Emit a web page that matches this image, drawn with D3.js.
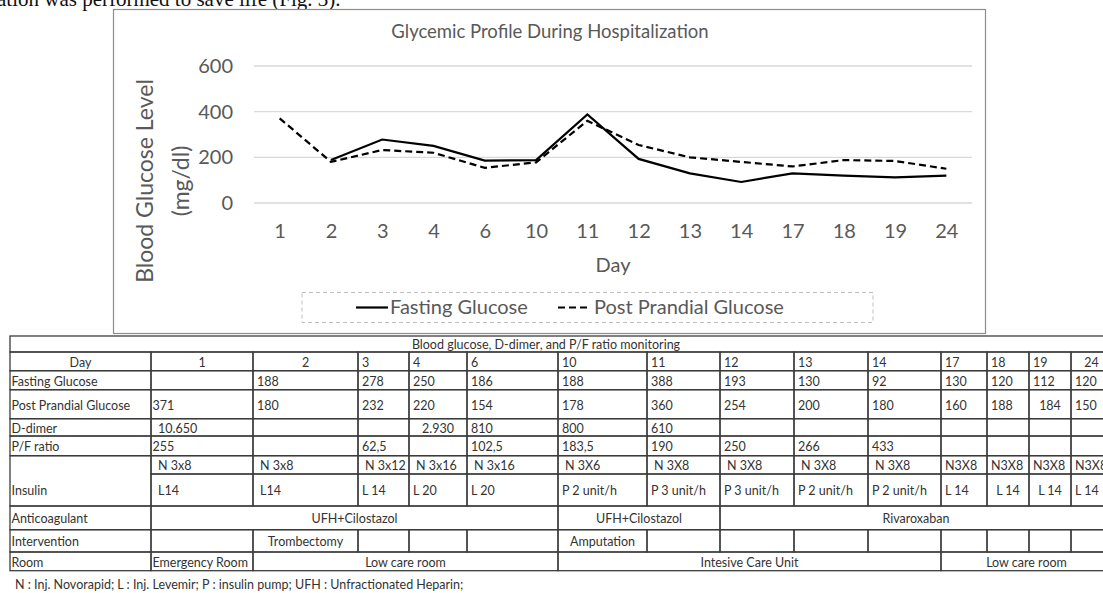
<!DOCTYPE html>
<html>
<head>
<meta charset="utf-8">
<script src="https://cdn.jsdelivr.net/npm/d3@7/dist/d3.min.js"></script>
<style>
  body { margin: 0; background: #fff; }
  svg { display: block; }
</style>
</head>
<body>
<svg id="fig" width="1103" height="593"></svg>
<script>
// chart data
const days = ['1', '2', '3', '4', '6', '10', '11', '12', '13', '14', '17', '18', '19', '24'];
const fasting = [null, 188, 278, 250, 186, 188, 388, 193, 130, 92, 130, 120, 112, 120];
const postPrandial = [371, 180, 232, 220, 154, 178, 360, 254, 200, 180, 160, 188, 184, 150];
const yTicks = [0, 200, 400, 600];

// table data
const dDimer = ['10.650', '', '', '2.930', '810', '800', '610', '', '', '', '', '', '', ''];
const pfRatio = ['255', '', '62,5', '', '102,5', '183,5', '190', '250', '266', '433', '', '', '', ''];
const insulinN = ['N 3x8', 'N 3x8', 'N 3x12', 'N 3x16', 'N 3x16', 'N 3X6', 'N 3X8', 'N 3X8', 'N 3X8', 'N 3X8', 'N3X8', 'N3X8', 'N3X8', 'N3X8'];
const insulinL = ['L14', 'L14', 'L 14', 'L 20', 'L 20', 'P 2 unit/h', 'P 3 unit/h', 'P 3 unit/h', 'P 2 unit/h', 'P 2 unit/h', 'L 14', 'L 14', 'L 14', 'L 14'];
const interventions = ['', 'Trombectomy', '', '', '', 'Amputation', '', '', '', '', '', '', '', ''];
// merged cells: [first column, last column, text]
const anticoagulant = [[0, 4, 'UFH+Cilostazol'], [5, 6, 'UFH+Cilostazol'], [7, 13, 'Rivaroxaban']];
const rooms = [[0, 0, 'Emergency Room'], [1, 4, 'Low care room'], [5, 9, 'Intesive Care Unit'], [10, 13, 'Low care room']];
const tableTitle = 'Blood glucose, D-dimer, and P/F ratio monitoring';
const footnote = 'N : Inj. Novorapid; L : Inj. Levemir; P : insulin pump; UFH : Unfractionated Heparin;';

const font = 'Lato, "Open Sans", sans-serif';
const grey = '#595959';

const svg = d3.select('#fig');

// cut-off line of the paper text above the figure
svg.append('text')
  .attr('x', -3).attr('y', 6)
  .attr('font-family', '"Liberation Serif", "Times New Roman", serif')
  .attr('font-size', 21)
  .attr('fill', '#111')
  .text('ation was performed to save life (Fig. 3).');

// ---------- chart ----------
svg.append('rect')
  .attr('x', 113.5).attr('y', 9.5)
  .attr('width', 872).attr('height', 324)
  .attr('fill', '#fff')
  .attr('stroke', '#8c8c8c')
  .attr('stroke-width', 1.2);

const x = d3.scalePoint().domain(days).range([254, 972]).padding(0.5);
const y = d3.scaleLinear().domain([0, 600]).range([203, 66]);

svg.append('g').selectAll('line')
  .data(yTicks)
  .join('line')
  .attr('x1', 254).attr('x2', 972)
  .attr('y1', d => y(d)).attr('y2', d => y(d))
  .attr('stroke', '#d9d9d9')
  .attr('stroke-width', 1.3);

const yAxis = svg.append('g')
  .attr('transform', 'translate(254,0)')
  .call(d3.axisLeft(y).tickValues(yTicks).tickSize(0).tickPadding(21));
const xAxis = svg.append('g')
  .attr('transform', 'translate(0,203)')
  .call(d3.axisBottom(x).tickSize(0).tickPadding(21));
[xAxis, yAxis].forEach(a => {
  a.select('.domain').remove();
  a.selectAll('text')
    .attr('font-family', font)
    .attr('font-size', 20)
    .attr('fill', grey);
});

svg.append('text')
  .attr('x', 550).attr('y', 38)
  .attr('text-anchor', 'middle')
  .attr('font-family', font).attr('font-size', 18.5)
  .attr('fill', grey)
  .text('Glycemic Profile During Hospitalization');

svg.append('text')
  .attr('x', 613).attr('y', 272)
  .attr('text-anchor', 'middle')
  .attr('font-family', font).attr('font-size', 20)
  .attr('fill', grey)
  .text('Day');

const yTitle = svg.append('g')
  .attr('font-family', font).attr('font-size', 23)
  .attr('fill', grey)
  .attr('text-anchor', 'middle');
yTitle.append('text')
  .attr('transform', 'translate(153,181) rotate(-90)')
  .text('Blood Glucose Level');
yTitle.append('text')
  .attr('transform', 'translate(189,181) rotate(-90)')
  .text('(mg/dl)');

const line = d3.line()
  .defined(d => d != null)
  .x((d, i) => x(days[i]))
  .y(d => y(d));

svg.append('path')
  .datum(postPrandial)
  .attr('d', line)
  .attr('fill', 'none')
  .attr('stroke', '#000')
  .attr('stroke-width', 2.2)
  .attr('stroke-dasharray', '7,4');

svg.append('path')
  .datum(fasting)
  .attr('d', line)
  .attr('fill', 'none')
  .attr('stroke', '#000')
  .attr('stroke-width', 2.2);

// legend
const legend = svg.append('g');
legend.append('rect')
  .attr('x', 302).attr('y', 292.5)
  .attr('width', 571).attr('height', 30)
  .attr('fill', 'none')
  .attr('stroke', '#bfbfbf')
  .attr('stroke-dasharray', '4,3');
legend.append('line')
  .attr('x1', 356).attr('x2', 388).attr('y1', 307.5).attr('y2', 307.5)
  .attr('stroke', '#000').attr('stroke-width', 2.2);
legend.append('line')
  .attr('x1', 558).attr('x2', 590).attr('y1', 307.5).attr('y2', 307.5)
  .attr('stroke', '#000').attr('stroke-width', 2.2)
  .attr('stroke-dasharray', '7,4');
legend.selectAll('text.lg')
  .data([[390, 'Fasting Glucose'], [594, 'Post Prandial Glucose']])
  .join('text')
  .attr('class', 'lg')
  .attr('x', d => d[0]).attr('y', 314)
  .attr('font-family', font).attr('font-size', 20)
  .attr('fill', grey)
  .text(d => d[1]);

// ---------- table ----------
const colEdges = [10, 151, 253, 358, 409, 467, 558, 647, 720, 794, 868, 941, 987, 1029, 1071, 1112];
const rowEdges = [336, 352, 370.7, 389.7, 418.7, 436, 455.7, 474, 506, 529.7, 552, 570.7];
const colX = i => colEdges[i + 1];

const cells = [];
function cell(x0, x1, y0, y1, text, align, shift) {
  cells.push({ x0, x1, y0, y1, text, align: align || 'left', shift: shift || 0 });
}
function row(k, label, values, aligns) {
  if (label !== null) cell(colEdges[0], colEdges[1], rowEdges[k], rowEdges[k + 1], label, k === 1 ? 'middle' : 'flush');
  values.forEach((v, i) => cell(colX(i), colX(i + 1), rowEdges[k], rowEdges[k + 1], v == null ? '' : String(v), (aligns || {})[i]));
}
function spanRow(k, label, spans, aligns) {
  cell(colEdges[0], colEdges[1], rowEdges[k], rowEdges[k + 1], label, 'flush');
  spans.forEach((s, j) => cell(colX(s[0]), colX(s[1] + 1), rowEdges[k], rowEdges[k + 1], s[2], (aligns || {})[j] || 'middle'));
}

cell(colEdges[0], colEdges[colEdges.length - 1], rowEdges[0], rowEdges[1], tableTitle, 'title');
row(1, 'Day', days, { 0: 'middle', 1: 'middle', 13: 'middle' });
row(2, 'Fasting Glucose', fasting);
row(3, 'Post Prandial Glucose', postPrandial, { 0: 'flush', 12: 'middle' });
row(4, 'D-dimer', dDimer, { 0: 'indent', 3: 'middle' });
row(5, 'P/F ratio', pfRatio, { 0: 'flush' });
cell(colEdges[0], colEdges[1], rowEdges[6], rowEdges[8], 'Insulin', 'flush', 9);
row(6, null, insulinN, Object.fromEntries(days.map((d, i) => [i, i < 10 ? 'indent' : 'left'])));
row(7, null, insulinL, { 0: 'indent', 1: 'indent', 11: 'middle', 12: 'middle' });
spanRow(8, 'Anticoagulant', anticoagulant);
row(9, 'Intervention', interventions, { 1: 'middle', 5: 'middle' });
spanRow(10, 'Room', rooms, { 0: 'flush' });

const table = svg.append('g')
  .attr('font-family', font)
  .attr('font-size', 12.5)
  .attr('fill', '#333');

table.selectAll('rect')
  .data(cells)
  .join('rect')
  .attr('x', d => d.x0).attr('y', d => d.y0)
  .attr('width', d => d.x1 - d.x0).attr('height', d => d.y1 - d.y0)
  .attr('fill', 'none')
  .attr('stroke', '#3c3c3c')
  .attr('stroke-width', 1.3);

const pad = { flush: 1.5, left: 4, indent: 7 };
table.selectAll('text')
  .data(cells.filter(d => d.text !== ''))
  .join('text')
  .attr('x', d => d.align === 'title' ? 546 : d.align === 'middle' ? (d.x0 + d.x1) / 2 : d.x0 + pad[d.align])
  .attr('y', d => (d.y0 + d.y1) / 2 + 1 + d.shift)
  .attr('dy', '0.35em')
  .attr('text-anchor', d => d.align === 'middle' || d.align === 'title' ? 'middle' : 'start')
  .text(d => d.text);

svg.append('text')
  .attr('x', 15).attr('y', 585).attr('dy', '0.35em')
  .attr('font-family', font).attr('font-size', 12.5)
  .attr('fill', '#333')
  .text(footnote);
</script>
</body>
</html>
